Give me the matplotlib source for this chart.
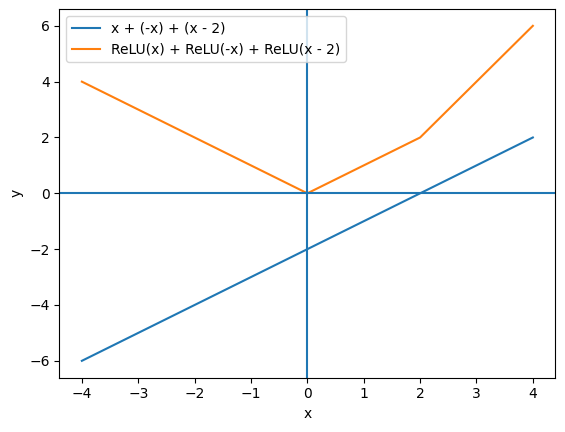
import matplotlib
matplotlib.use("Agg")
import matplotlib.pyplot as plt

# values
x_pts = [-4, 0, 2, 4]
linear_sum = [-6, -2, 0, 2]
relu_sum = [4, 0, 2, 6]

fig = plt.figure(figsize=(5.65, 4.32), dpi=100)
ax = fig.add_axes([0.105, 0.126, 0.878, 0.853])

ax.plot(x_pts, linear_sum, label='x + (-x) + (x - 2)')
ax.plot(x_pts, relu_sum, label='ReLU(x) + ReLU(-x) + ReLU(x - 2)')
ax.axhline(0)
ax.axvline(0)

ax.set_xlabel('x')
ax.set_ylabel('y')
ax.legend(loc='upper left')

fig.savefig('out.png', dpi=100)
